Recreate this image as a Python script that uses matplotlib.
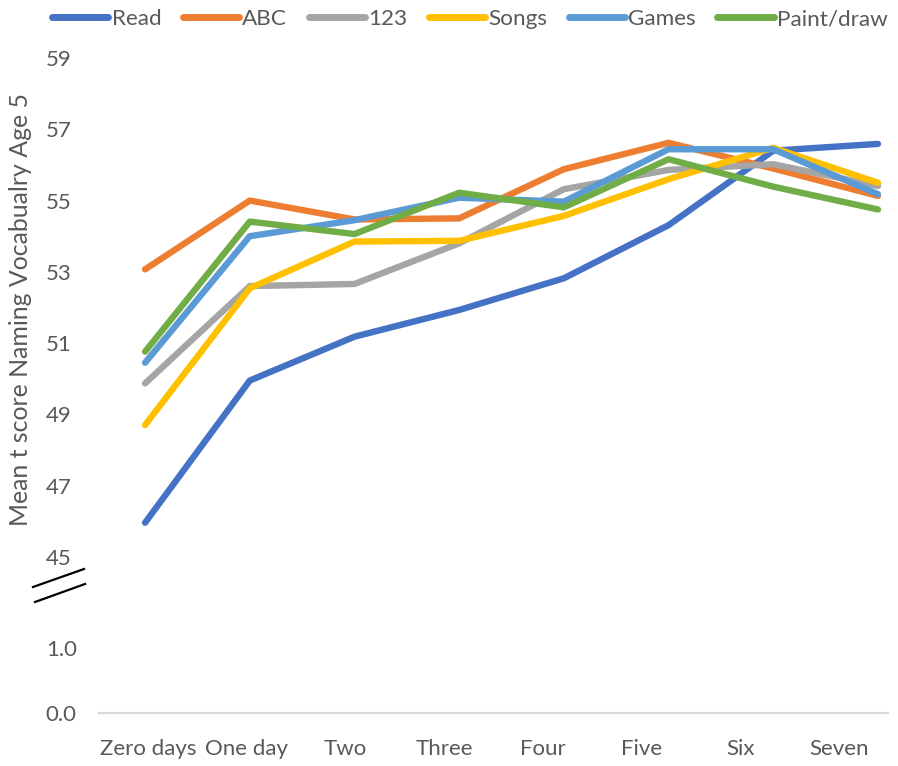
import matplotlib
matplotlib.use("Agg")
import matplotlib.pyplot as plt
from matplotlib.lines import Line2D
from matplotlib.ticker import FormatStrFormatter

plt.rcParams['font.family'] = ['Lato', 'DejaVu Sans']

categories = ["Zero days", "One day", "Two", "Three", "Four", "Five", "Six", "Seven"]
series_names = ["Read", "ABC", "123", "Songs", "Games", "Paint/draw"]
read_vals = [45.96, 49.95, 51.18, 51.93, 52.82, 54.31, 56.40, 56.59]
abc_vals = [53.07, 55.00, 54.47, 54.50, 55.88, 56.62, 55.90, 55.13]
num_vals = [49.87, 52.60, 52.66, 53.80, 55.32, 55.86, 56.02, 55.41]
songs_vals = [48.70, 52.54, 53.85, 53.87, 54.57, 55.60, 56.48, 55.50]
games_vals = [50.45, 54.00, 54.45, 55.08, 54.97, 56.44, 56.44, 55.18]
paint_vals = [50.76, 54.41, 54.06, 55.22, 54.81, 56.16, 55.39, 54.75]
upper_ticks = [45, 47, 49, 51, 53, 55, 57, 59]
lower_ticks = [0.0, 1.0]

colors = ["#4472C4", "#ED7D31", "#A5A5A5", "#FFC000", "#5B9BD5", "#70AD47"]
all_series = [read_vals, abc_vals, num_vals, songs_vals, games_vals, paint_vals]

W, H = 898, 766
fig = plt.figure(figsize=(W / 100, H / 100), dpi=100)
text_color = "#595959"


def box(left, top, right, bottom):
    return [left / W, 1 - bottom / H, (right - left) / W, (bottom - top) / H]


# upper panel holding the lines
ax = fig.add_axes(box(99, 40, 890, 560))
xs = list(range(len(categories)))
for name, vals, c in zip(series_names, all_series, colors):
    ax.plot(xs, vals, color=c, lw=4.6, solid_capstyle='round',
            solid_joinstyle='round', label=name)
ax.set_xlim(-0.44, 7.115)
ax.set_ylim(44.915, 59.505)
ax.set_yticks(upper_ticks)
ax.set_xticks([])
for s in ax.spines.values():
    s.set_visible(False)
ax.tick_params(axis='y', length=0, pad=20, labelsize=16, labelcolor=text_color)

# lower panel with the baseline and category labels
ax2 = fig.add_axes(box(99, 600, 888, 713))
ax2.set_xlim(-0.5, 7.5)
ax2.set_ylim(0, 1.738)
ax2.set_yticks(lower_ticks)
ax2.yaxis.set_major_formatter(FormatStrFormatter('%.1f'))
ax2.set_xticks(xs)
ax2.set_xticklabels(categories)
for k in ['top', 'left', 'right']:
    ax2.spines[k].set_visible(False)
ax2.spines['bottom'].set_color("#D9D9D9")
ax2.spines['bottom'].set_linewidth(1.6)
ax2.tick_params(axis='y', length=0, pad=16, labelsize=16, labelcolor=text_color)
ax2.tick_params(axis='x', length=0, pad=18.5, labelsize=16, labelcolor=text_color)

# axis break marks
for (x0, y0, x1, y1) in [(33, 587, 84, 569), (35, 602, 85, 584)]:
    fig.add_artist(Line2D([x0 / W, x1 / W], [1 - y0 / H, 1 - y1 / H],
                          color='black', lw=1.6, transform=fig.transFigure))

fig.text(21 / W, 1 - 309 / H, "Mean t score Naming Vocabualry Age 5",
         rotation=90, ha='center', va='center', fontsize=17.9, color=text_color)

handles, labels = ax.get_legend_handles_labels()
leg = fig.legend(handles, labels, loc='center', ncol=6,
                 bbox_to_anchor=(470 / W, 1 - 19 / H), frameon=False,
                 fontsize=16.2, handlelength=2.5, handletextpad=0.15,
                 columnspacing=0.95, borderaxespad=0)
for t in leg.get_texts():
    t.set_color(text_color)
for lh in leg.get_lines():
    lh.set_linewidth(5)

fig.savefig("out.png", dpi=100)
